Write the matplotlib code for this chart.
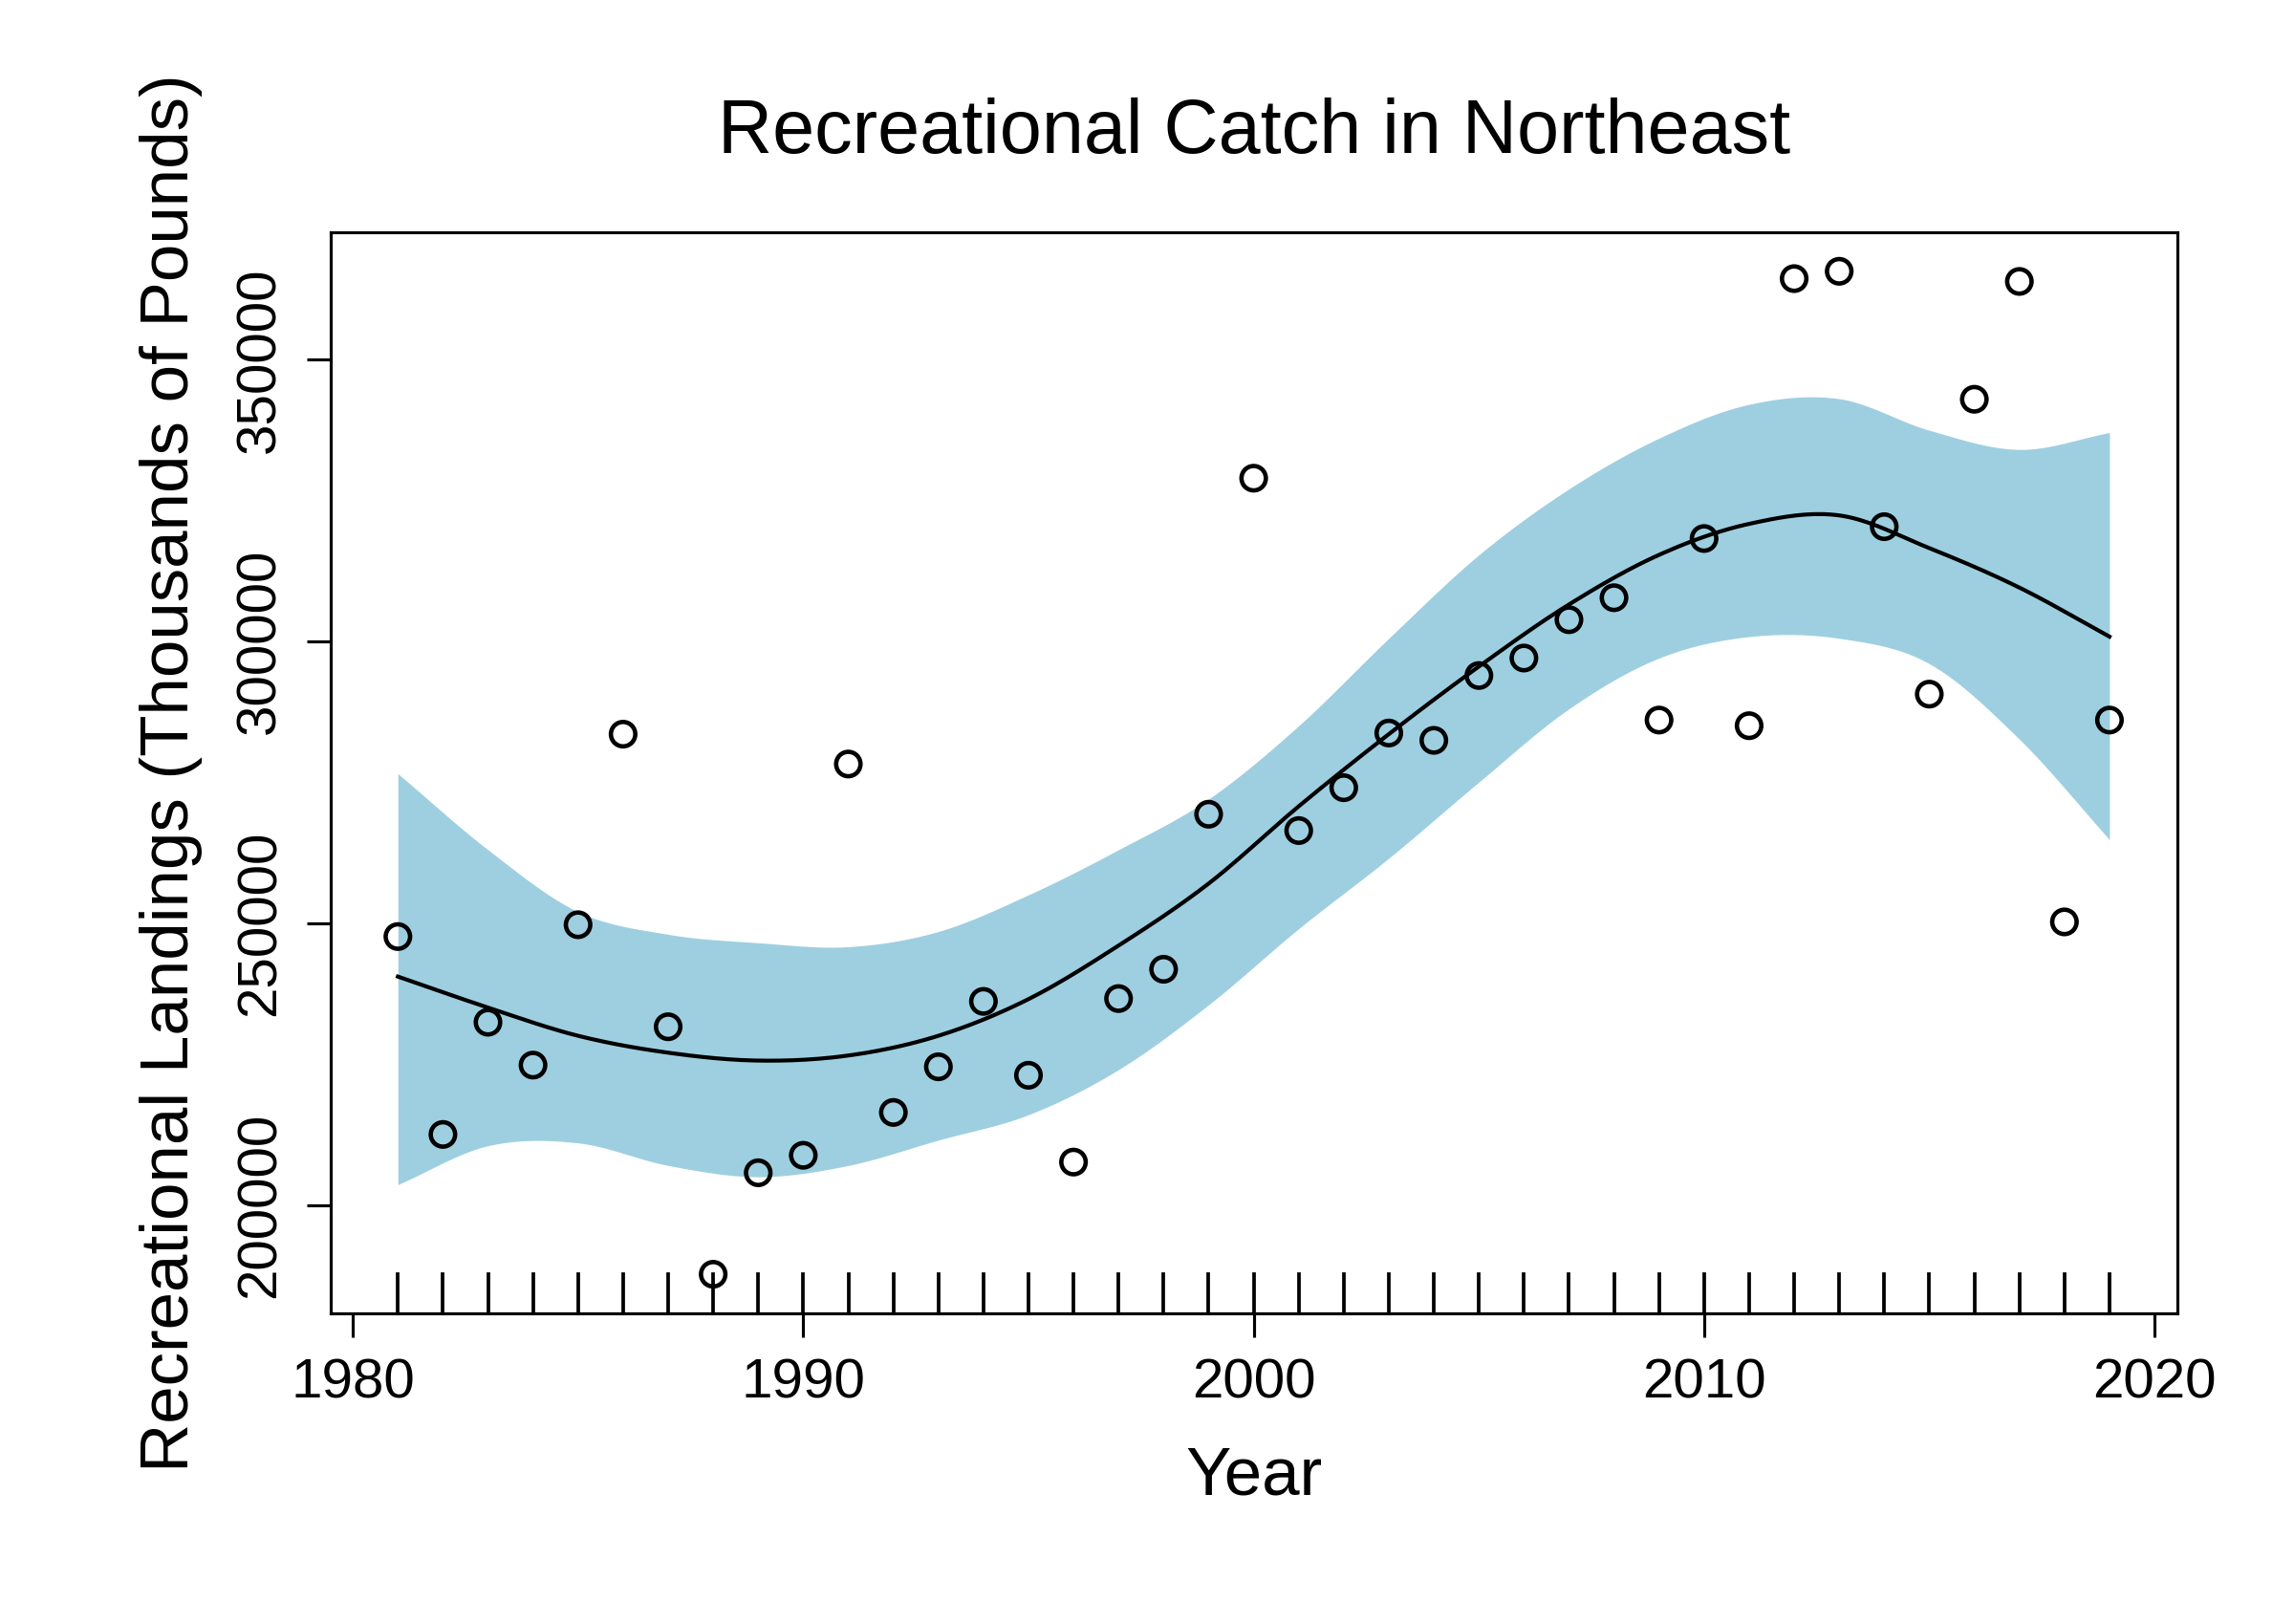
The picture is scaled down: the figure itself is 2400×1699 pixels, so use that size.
import matplotlib

matplotlib.use("Agg")
import matplotlib.pyplot as plt
import numpy as np

plt.rcParams["font.family"] = ["Liberation Sans", "DejaVu Sans"]

years = np.arange(1981, 2020)
catch = [247600, 212500, 232400, 224800, 249700, 283500, 231600, 187700, 205700, 208800,
         278200, 216400, 224500, 236100, 223000, 207600, 236600, 241800, 269300, 328900,
         266400, 274000, 283700, 282400, 293900, 297000, 303800, 307700, 286000, 318200,
         285000, 364300, 365600, 320300, 290600, 342900, 363800, 250200, 286000]

fit_years = np.arange(1981, 2020, 2)
fit = [240500, 235000, 230000, 227000, 225600, 226500, 230000, 236500, 246000, 257000,
       270700, 283500, 295500, 306500, 315300, 320800, 322300, 316500, 309500, 300800]
upper = [276500, 263000, 252000, 248000, 246500, 245800, 248500, 255000, 263000, 272000,
         285000, 300500, 315300, 327000, 336000, 342000, 343000, 337400, 334000, 337000]
lower = [203600, 210500, 211000, 207000, 205000, 207000, 211500, 216000, 224000, 235500,
         249000, 261500, 275000, 288000, 297000, 300800, 300500, 296000, 282600, 264800]

fig = plt.figure(figsize=(16, 11.33), dpi=150)
ax = fig.add_axes([0.144, 0.191, 0.805, 0.666])

xs = np.linspace(1981, 2019, 400)


def smooth(v):
    # Catmull-Rom style cubic Hermite through the read-off points
    x = np.asarray(fit_years, float)
    y = np.asarray(v, float)
    m = np.gradient(y, x)
    i = np.clip(np.searchsorted(x, xs) - 1, 0, len(x) - 2)
    h = x[i + 1] - x[i]
    t = (xs - x[i]) / h
    h00 = 2 * t**3 - 3 * t**2 + 1
    h10 = t**3 - 2 * t**2 + t
    h01 = -2 * t**3 + 3 * t**2
    h11 = t**3 - t**2
    return h00 * y[i] + h10 * h * m[i] + h01 * y[i + 1] + h11 * h * m[i + 1]


ax.fill_between(xs, smooth(lower), smooth(upper), color="#9ecfe0", lw=0)
ax.plot(xs, smooth(fit), color="black", lw=2)
ax.scatter(years, catch, s=150, facecolors="none", edgecolors="black", linewidths=2.2, zorder=3)

# rug
for yr in years:
    ax.plot([yr, yr], [0, 0.037], color="black", lw=1.8,
            transform=ax.get_xaxis_transform())

ax.set_xlim(1979.5, 2020.5)
ax.set_ylim(180700, 372600)
ax.set_xticks([1980, 1990, 2000, 2010, 2020])
ax.set_yticks([200000, 250000, 300000, 350000])
ax.tick_params(labelsize=28, width=1.5, length=12, direction="out", pad=10)
for lab in ax.get_yticklabels():
    lab.set_rotation(90)
    lab.set_va("center")
for s in ax.spines.values():
    s.set_linewidth(1.5)
ax.set_xlabel("Year", fontsize=34, labelpad=18)
ax.set_ylabel("Recreational Landings (Thousands of Pounds)", fontsize=34, labelpad=16)
ax.set_title("Recreational Catch in Northeast", fontsize=38, pad=40)

fig.savefig("out.png", dpi=150)
